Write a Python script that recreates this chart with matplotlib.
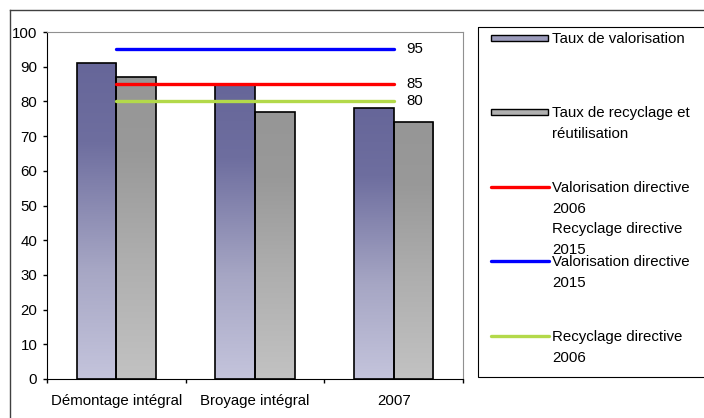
import numpy as np
import matplotlib
matplotlib.use("Agg")
import matplotlib.pyplot as plt
from matplotlib.colors import LinearSegmentedColormap
from matplotlib.patches import Rectangle
from matplotlib.lines import Line2D

plt.rcParams["font.family"] = ["Liberation Sans", "DejaVu Sans"]

categories = ["Démontage intégral", "Broyage intégral", "2007"]
taux_valorisation = [91, 85, 78]
taux_recyclage = [87, 77, 74]

# directive targets
targets = [95, 85, 80]
target_colors = ["#0000ff", "#ff0000", "#b3d94a"]

legend_labels = [
    "Taux de valorisation",
    "Taux de recyclage et\nréutilisation",
    "Valorisation directive\n2006\nRecyclage directive\n2015",
    "Valorisation directive\n2015",
    "Recyclage directive\n2006",
]

purple_cmap = LinearSegmentedColormap.from_list(
    "purple", [(0.0, "#c4c4dc"), (0.35, "#a6a6c4"), (0.75, "#6e6e9f"), (1.0, "#666699")])
gray_cmap = LinearSegmentedColormap.from_list(
    "gray", [(0.0, "#c2c2c2"), (0.4, "#aeaeae"), (0.75, "#999999"), (1.0, "#969696")])

FS = 10.8
W, H = 704, 418
fig = plt.figure(figsize=(W / 100, H / 100), dpi=100)

# pixel-space overlay for frame and legend
bg = fig.add_axes([0, 0, 1, 1])
bg.set_xlim(0, W)
bg.set_ylim(H, 0)
bg.axis("off")
bg.plot([10, W], [10, 10], color="#404040", lw=1)
bg.plot([10, 10], [10, H], color="#404040", lw=1)

ax = fig.add_axes([47 / W, 1 - 379 / H, (463 - 47) / W, (379 - 32) / H])

x = np.arange(len(categories))
width = 0.285
bars1 = ax.bar(x - width / 2, taux_valorisation, width, facecolor="none",
               edgecolor="black", linewidth=1.2, zorder=3)
bars2 = ax.bar(x + width / 2, taux_recyclage, width, facecolor="none",
               edgecolor="black", linewidth=1.2, zorder=3)

grad = np.linspace(0, 1, 256).reshape(-1, 1)
for bars, cmap in [(bars1, purple_cmap), (bars2, gray_cmap)]:
    for b in bars:
        bx, bw, bh = b.get_x(), b.get_width(), b.get_height()
        im = ax.imshow(grad, extent=[bx, bx + bw, 0, bh], origin="lower",
                       aspect="auto", cmap=cmap, zorder=2)
        im.set_clip_path(b)

for val, col in zip(targets, target_colors):
    ax.plot([x[0], x[-1]], [val, val], color=col, lw=2.4, zorder=4,
            solid_capstyle="round")
    ax.text(x[-1] + 0.09, val, str(val), va="center", ha="left", fontsize=FS)

ax.set_xlim(-0.5, len(categories) - 0.5)
ax.set_ylim(0, 100)
ax.set_yticks(range(0, 101, 10))
ax.tick_params(axis="y", direction="out", length=3, width=1, pad=4, labelsize=FS)
ax.set_xticks(x)
ax.set_xticklabels(categories)
ax.tick_params(axis="x", which="major", length=0, pad=11, labelsize=FS)
ax.set_xticks(np.arange(-0.5, len(categories)), minor=True)
ax.tick_params(axis="x", which="minor", direction="out", length=3, width=1)
for side in ["top", "right"]:
    ax.spines[side].set_color("#909090")
for side in ["left", "bottom"]:
    ax.spines[side].set_color("black")

# legend drawn in pixel space
bg.add_patch(Rectangle((478, 27), W - 478 + 5, 350, fill=False,
                       edgecolor="black", lw=0.8))
entry_y = [38, 112, 187, 261, 336]
bg.add_patch(Rectangle((491, 35), 57, 6, facecolor="#9c9cbc", edgecolor="black", lw=1))
bg.add_patch(Rectangle((491, 109), 57, 6, facecolor="#b0b0b0", edgecolor="black", lw=1))
for yy, col in zip(entry_y[2:], ["#ff0000", "#0000ff", "#b3d94a"]):
    bg.add_line(Line2D([491, 549], [yy, yy], color=col, lw=2.4,
                       solid_capstyle="round"))
for yy, lab in zip(entry_y, legend_labels):
    bg.text(552, yy - 6, lab, va="top", ha="left", fontsize=FS, linespacing=1.6)

fig.savefig("out.png", dpi=100)
